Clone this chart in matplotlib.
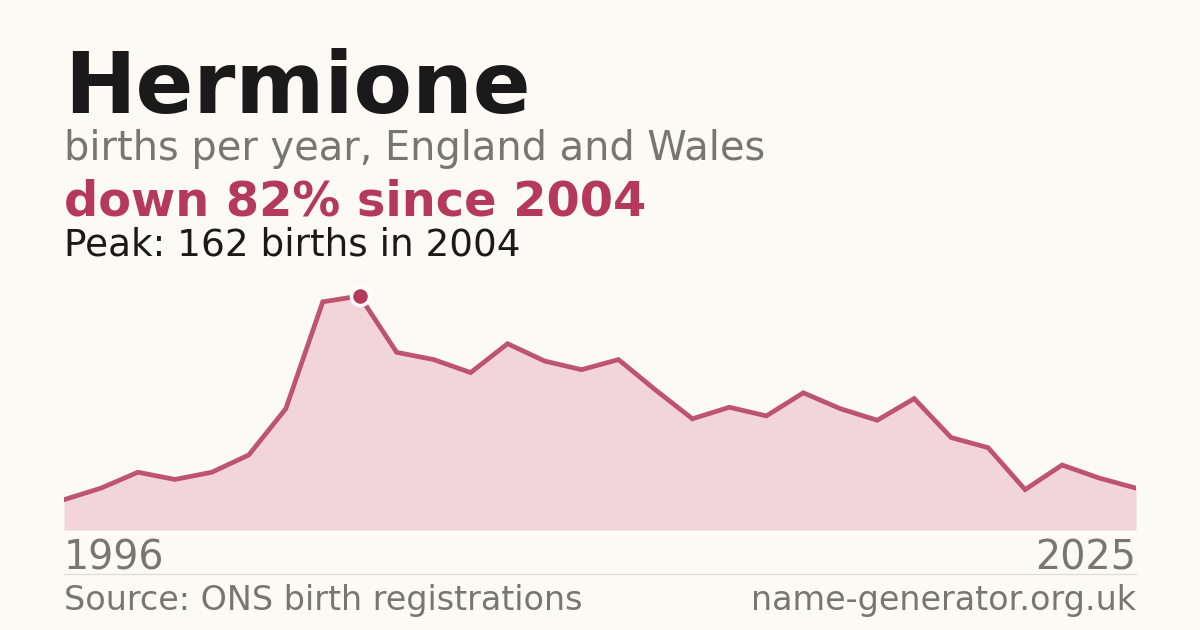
import numpy as np
import matplotlib.pyplot as plt

plt.rcParams['font.family'] = ['DejaVu Sans']

# data
years = list(range(1996, 2026))
births = [21, 29, 40, 35, 40, 52, 84, 158, 162, 123,
          118, 109, 129, 117, 111, 118, 97, 77, 85, 79,
          95, 84, 76, 91, 64, 57, 28, 45, 36, 29]

name = "Hermione"
subtitle = "births per year, England and Wales"
headline = "down 82% since 2004"
peak_text = "Peak: 162 births in 2004"
source = "Source: ONS birth registrations"
site = "name-generator.org.uk"

bg = "#fbfaf5"
red = "#b5395a"
grey = "#7a756d"
dark = "#1a1a1a"

W, H = 1200, 630
fig = plt.figure(figsize=(W/100, H/100), dpi=100, facecolor=bg)

def px(x, y):
    return x/W, 1 - y/H

# chart area
left, right, bottom, top = 64, 1136, 530, 280
ax = fig.add_axes([left/W, (H-bottom)/H, (right-left)/W, (bottom-top)/H])
ax.set_facecolor(bg)
peak = max(births)
ymax = peak*(bottom-top)/(bottom-296)
ax.fill_between(years, births, 0, color="#f2d5db", lw=0)
ax.plot(years, births, color=red, lw=3.4, alpha=0.85, solid_joinstyle="miter")
pi = births.index(peak)
ax.plot(years[pi], births[pi], "o", ms=13, color=red, mec="white", mew=2.5, zorder=5)
ax.set_xlim(years[0], years[-1])
ax.set_ylim(0, ymax)
ax.axis("off")

# texts
fig.text(*px(64, 113), name, fontsize=61.5, fontweight="bold", color=dark, va="baseline")
fig.text(*px(64, 160), subtitle, fontsize=28.7, color=grey, va="baseline")
fig.text(*px(64, 215), headline, fontsize=34.5, fontweight="bold", color=red, va="baseline")
fig.text(*px(64, 255), peak_text, fontsize=26.9, color=dark, va="baseline")

fig.text(*px(64, 570), str(years[0]), fontsize=28.5, color=grey, va="baseline")
fig.text(*px(1136, 570), str(years[-1]), fontsize=28.5, color=grey, va="baseline", ha="right")

fig.add_artist(plt.Line2D([64/W, 1136/W], [1-574/H, 1-574/H], color="#dcd9d2", lw=0.8))

fig.text(*px(64, 610), source, fontsize=24, color=grey, va="baseline")
fig.text(*px(1136, 610), site, fontsize=24, color=grey, va="baseline", ha="right")

fig.savefig("out.png", dpi=100, facecolor=bg)
